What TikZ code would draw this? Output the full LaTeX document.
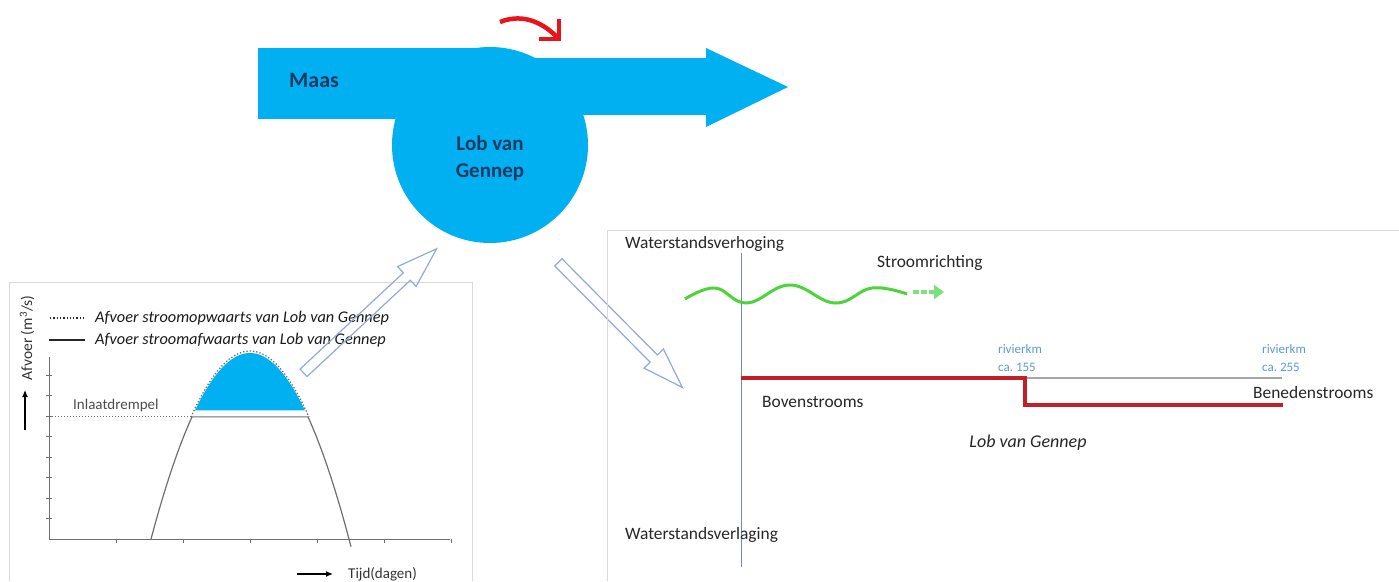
\documentclass[tikz,border=0pt]{standalone}
\usepackage{fontspec}
\setmainfont{Carlito}
\usetikzlibrary{arrows.meta,shapes.arrows,calc}

\definecolor{maasblue}{HTML}{00B0F0}
\definecolor{navytext}{HTML}{1F3864}
\definecolor{hollowblue}{HTML}{8FAADC}
\definecolor{framegrey}{HTML}{D9D9D9}
\definecolor{levelred}{HTML}{C0202A}
\definecolor{turnred}{HTML}{E8141B}
\definecolor{wavegreen}{HTML}{4CD43A}
\definecolor{tipgreen}{HTML}{7CE07C}
\definecolor{kmblue}{HTML}{5B9BD5}
\definecolor{axisgrey}{HTML}{6F6F6F}
\definecolor{zeroline}{HTML}{6F8FAF}

\begin{document}
\begin{tikzpicture}[x=1pt,y=-1pt,
    lbl/.style={inner sep=0pt, text=black!85, font=\fontsize{17.4}{20}\selectfont},
    small/.style={inner sep=0pt, text=black!80, font=\fontsize{15}{18}\selectfont},
    legend/.style={inner sep=0pt, anchor=west, text=black!90, font=\fontsize{16.3}{19}\selectfont\itshape},
    km/.style={inner sep=0pt, anchor=west, align=left, text=kmblue, font=\fontsize{13}{18}\selectfont},
    river/.style={inner sep=0pt, text=navytext, font=\fontsize{21}{27}\selectfont\bfseries, align=center},
    hollow/.style={single arrow, draw=hollowblue, line width=1.2pt, inner xsep=0pt, inner ysep=4.5pt,
      outer sep=0pt, single arrow head extend=8.5pt, single arrow tip angle=37,
      sloped, allow upside down},
    frame/.style={draw=framegrey, line width=1pt},
    curve/.style={draw=axisgrey, line width=1.2pt}]
  \useasboundingbox (0,0) rectangle (1399,581);

  % river Maas with the lobe
  \fill[maasblue] (258,48) rectangle (490,119);
  \fill[maasblue] (490,58) rectangle (707,115);
  \fill[maasblue] (706,48) -- (788,87) -- (706,127) -- cycle;
  \node[circle, fill=maasblue, minimum size=196pt, inner sep=0pt] (lob) at (490,145) {};
  \node[river, font=\fontsize{22}{26}\selectfont\bfseries, anchor=west] (maas) at (289,80) {Maas};
  \node[river] (lobtext) at (490,158) {Lob van\\Gennep};
  \draw[turnred, line width=4.5pt, -{Straight Barb[length=14pt, width=28pt]}]
    (500,22) .. controls (525,12) and (545,25) .. (561,41);

  % hydrograph
  \draw[frame] (9,581) -- (9,282) -- (472,282) -- (472,581);
  \draw[axisgrey, line width=1pt] (49,357) -- (49,539) -- (450,539);
  \foreach \k in {1,...,8}
    \draw[axisgrey] (46,{539-20.5*\k}) -- (52,{539-20.5*\k});
  \foreach \k in {1,...,6}
    \draw[axisgrey] ({49+67*\k},539) -- ({49+67*\k},543);
  \fill[maasblue] plot[domain=195:305, samples=40] (\x,{353+0.01898*(\x-250)^2}) -- cycle;
  \draw[axisgrey, dotted, line width=1.3pt] plot[domain=191:309, samples=40] (\x,{351+0.01898*(\x-250)^2});
  \draw[axisgrey, dotted, line width=1pt] (49,416) -- (192,416);
  \draw[curve] plot[domain=151:192, samples=20] (\x,{353+0.01898*(\x-250)^2})
    -- plot[domain=308:351, samples=20] (\x,{353+0.01898*(\x-250)^2});
  \node[small, text=black!70, anchor=west] (drempel) at (73,405) {Inlaatdrempel};
  \draw[black!85, dotted, line width=1.3pt] (50,318) -- (85,318);
  \node[legend] (upstream) at (95,318) {Afvoer stroomopwaarts van Lob van Gennep};
  \draw[black!85, line width=1.3pt] (49,340) -- (85,340);
  \node[legend] (downstream) at (95,340) {Afvoer stroomafwaarts van Lob van Gennep};
  \node[small, rotate=90, font=\fontsize{15.5}{18}\selectfont] (qlabel) at (27,338) {Afvoer (m\textsuperscript{3}/s)};
  \coordinate (qlow) at (25,430);
  \coordinate (qhigh) at (25,390);
  \draw[black, line width=1.2pt, -{Latex[length=7pt, width=6pt]}] (qlow) -- (qhigh);
  \node[small, anchor=west] (tlabel) at (348,574) {Tijd(dagen)};
  \coordinate (tstart) at (297,574);
  \coordinate (tend) at (333,574);
  \draw[black, line width=1.2pt, -{Latex[length=7pt, width=6pt]}] (tstart) -- (tend);

  % hollow arrows
  \coordinate (inA) at (298,378);
  \coordinate (inB) at (431,254);
  \coordinate (outA) at (553,257);
  \coordinate (outB) at (677,382);
  \path let \p1=($(inB)-(inA)$) in
    (inA) -- node[hollow, minimum height={veclen(\x1,\y1)}] (toLob) {} (inB);
  \path let \p1=($(outB)-(outA)$) in
    (outA) -- node[hollow, minimum height={veclen(\x1,\y1)}] (toLevel) {} (outB);

  % water level profile
  \draw[frame] (607,581) -- (607,230) -- (1399,230);
  \draw[zeroline, line width=1pt] (741,253) -- (741,567);
  \node[lbl, anchor=west] (up) at (625,244) {Waterstandsverhoging};
  \node[lbl, anchor=west] (down) at (625,535) {Waterstandsverlaging};
  \node[lbl, anchor=west] (flow) at (877,263) {Stroomrichting};
  \draw[wavegreen, line width=3pt] plot[smooth, tension=0.7] coordinates
    {(685,299) (715,288) (747,303) (790,285) (835,303) (872,288) (907,294)};
  \draw[tipgreen, line width=4pt, dash pattern=on 6pt off 2pt,
    -{Triangle[length=10pt, width=14pt]}] (913,292) -- (944,292);
  \draw[black!35, line width=2pt] (1025,378) -- (1282,378);
  \draw[levelred, line width=4pt] (741,378) -- (1025,378) -- (1025,405) -- (1283,405);
  \node[lbl, anchor=west] (boven) at (762,402) {Bovenstrooms};
  \node[lbl, anchor=west] (beneden) at (1253,393) {Benedenstrooms};
  \node[km] (km155) at (998,358) {rivierkm\\ca.\ 155};
  \node[km] (km255) at (1262,358) {rivierkm\\ca.\ 255};
  \node[lbl, font=\fontsize{18}{22}\selectfont\itshape] (lobname) at (1028,443) {Lob van Gennep};
\end{tikzpicture}
\end{document}
